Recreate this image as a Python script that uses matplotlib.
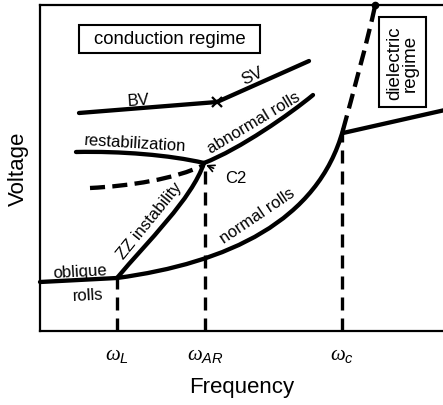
import matplotlib
matplotlib.use("Agg")
import matplotlib.pyplot as plt
from matplotlib.path import Path
from matplotlib.patches import PathPatch, Rectangle

plt.rcParams['font.family'] = ['Liberation Sans', 'DejaVu Sans']
plt.rcParams['mathtext.fontset'] = 'custom'
plt.rcParams['mathtext.it'] = 'Liberation Serif:italic'
plt.rcParams['mathtext.sf'] = 'Liberation Sans:italic'
plt.rcParams['mathtext.rm'] = 'Liberation Sans'

H = 406
# Schematic curves (frequency, voltage) in arbitrary units.
# Curved branches are cubic Bezier control points: start, ctrl, ctrl, end.
oblique_x = [40, 117]
oblique_y = [H - 283, H - 279]

normal_x = [117, 228, 318, 343]
normal_y = [H - 279, H - 264, H - 222, H - 131]

zz_x = [117, 147, 192, 204]
zz_y = [H - 279, H - 243, H - 200, H - 164]

restab_x = [76, 120, 170, 204]
restab_y = [H - 153, H - 152, H - 156, H - 164]

c2dash_x = [90, 130, 175, 204]
c2dash_y = [H - 189, H - 187, H - 180, H - 166]

abnormal_x = [204, 240, 290, 313]
abnormal_y = [H - 164, H - 150, H - 115, H - 96]

bv_x = [79, 217]
bv_y = [H - 114, H - 103]
sv_x = [217, 309]
sv_y = [H - 103, H - 62]

diel_dash_x = [343, 352, 368, 375]
diel_dash_y = [H - 131, H - 98, H - 40, H - 7]

diel_x = [343, 445]
diel_y = [H - 134, H - 111]

tick_pos = [117, 205, 342]
tick_labels = [r'$\omega_{\mathsf{L}}$', r'$\omega_{\mathsf{AR}}$', r'$\omega_{\mathsf{c}}$']
vline_top = [H - 279, H - 165, H - 132]

fig = plt.figure(figsize=(4.43, 4.06), dpi=100)
ax = fig.add_axes([40 / 443, (H - 332) / H, 1 - 40 / 443, (332 - 6) / H])
ax.set_xlim(40, 443)
ax.set_ylim(H - 332, H - 6)
for s in ['left', 'bottom', 'top']:
    ax.spines[s].set_linewidth(1.6)
ax.spines['right'].set_visible(False)
ax.set_yticks([])
ax.set_xticks(tick_pos)
ax.set_xticklabels(tick_labels, fontsize=15)
ax.tick_params(axis='x', length=0, pad=10)
ax.set_xlabel('Frequency', fontsize=16, labelpad=9)
ax.set_ylabel('Voltage', fontsize=16, labelpad=8)

lw = 3.1


def bezier(xs, ys, **kw):
    verts = list(zip(xs, ys))
    codes = [Path.MOVETO] + [Path.CURVE4] * (len(verts) - 1)
    patch = PathPatch(Path(verts, codes), fill=False, ec='black', **kw)
    ax.add_patch(patch)


kw = dict(color='black', lw=lw, solid_capstyle='round', clip_on=False)
ax.plot(oblique_x, oblique_y, **kw)
ax.plot(bv_x, bv_y, **kw)
ax.plot(sv_x, sv_y, **kw)
ax.plot(diel_x, diel_y, **kw)
bezier(normal_x, normal_y, lw=lw, capstyle='round')
bezier(zz_x, zz_y, lw=lw, capstyle='round')
bezier(restab_x, restab_y, lw=lw, capstyle='round')
bezier(abnormal_x, abnormal_y, lw=lw, capstyle='round')
bezier(c2dash_x, c2dash_y, lw=lw, ls=(0, (3.5, 1.7)))
bezier(diel_dash_x, diel_dash_y, lw=lw, ls=(0, (3.5, 1.7)))
ax.plot([diel_dash_x[-1]], [H - 6], 'o', color='black', ms=4.5, clip_on=False)
ax.plot([bv_x[-1]], [bv_y[-1]], 'x', color='black', ms=7, mew=1.6)

for xp, yt in zip(tick_pos, vline_top):
    ax.plot([xp, xp], [H - 332, yt], color='black', lw=2.4, ls=(0, (3.9, 2.4)))

fs = 12
tk = dict(fontsize=fs, ha='center', va='baseline', rotation_mode='anchor')
ax.text(138.5, H - 105, 'BV', rotation=4, **tk)
ax.text(254, H - 80.4, 'SV', rotation=25, **tk)
ax.text(135, H - 148.5, 'restabilization', rotation=-3.5, **tk)
ax.text(256, H - 127, 'abnormal rolls', rotation=31, **tk)
ax.text(153.5, H - 223.8, 'ZZ instability', rotation=51, **tk)
ax.text(260.2, H - 219.5, 'normal rolls', rotation=34, **tk)
ax.text(80, H - 276.8, 'oblique', rotation=3, **tk)
ax.text(88, H - 300, 'rolls', rotation=3, **tk)
ax.annotate('C2', xy=(206, H - 166), xytext=(236, H - 179), fontsize=fs,
            ha='center', va='center',
            arrowprops=dict(arrowstyle='->', color='black', lw=1.2, shrinkA=7, shrinkB=0))

ax.add_patch(Rectangle((79, H - 54), 181, 28, fc='white', ec='black', lw=1.5))
ax.text(169.5, H - 40, 'conduction regime', fontsize=13.4, ha='center', va='center')
ax.add_patch(Rectangle((379, H - 108), 47, 90, fc='white', ec='black', lw=1.5))
ax.text(402.5, H - 63, 'dielectric\nregime', fontsize=13.5, ha='center', va='center',
        rotation=90, linespacing=0.95)

fig.savefig('out.png', dpi=100)
